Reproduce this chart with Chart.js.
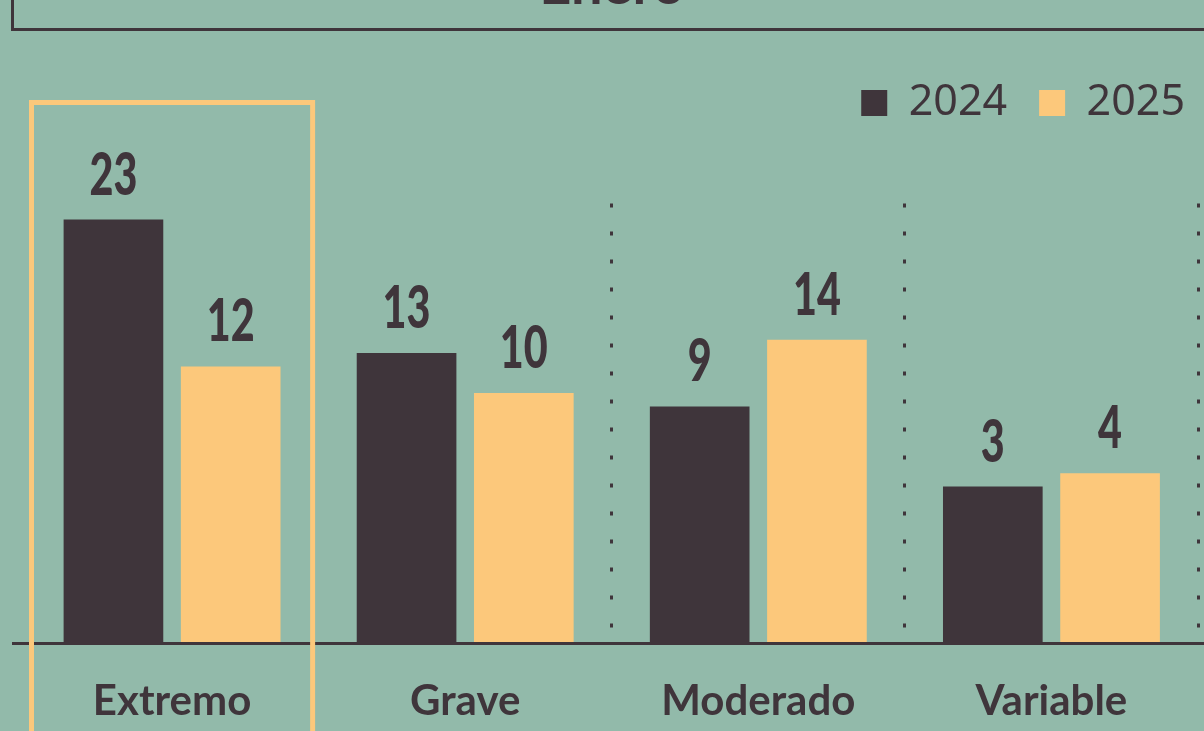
<!DOCTYPE html>
<html>
<head>
<meta charset="utf-8">
<script src="https://cdn.jsdelivr.net/npm/chart.js@4.4.1/dist/chart.umd.min.js"></script>
<style>
  html, body { margin: 0; padding: 0; }
  body { width: 1204px; height: 731px; overflow: hidden; position: relative; background: #92baaa; }
  #titleBox { position: absolute; left: 11px; top: -60px; width: 1300px; height: 91px; box-sizing: border-box; border: 3px solid #3f353b; }
  #title { position: absolute; left: 0; top: -45px; width: 1224px; text-align: center; font: 700 56px/56px Lato, sans-serif; color: #3f353b; }
  canvas { position: absolute; left: 0; top: 0; }
</style>
</head>
<body>
<div id="titleBox"></div>
<div id="title">Enero</div>
<canvas id="chart" width="1204" height="731"></canvas>
<script>
// --- Data ---
const categories = ['Extremo', 'Grave', 'Moderado', 'Variable'];
const years = ['2024', '2025'];
const values2024 = [23, 13, 9, 3];
const values2025 = [12, 10, 14, 4];
// bars do not start at zero in the original, the value axis floor sits below it
const axisMin = -8.65;
const axisMax = 24.2;
const highlightIndex = 0;

const INK = '#3f353b';
const GOLD = '#fcc87b';

// numbers above each bar, squeezed to look like a condensed face
const valueLabels = {
  id: 'valueLabels',
  afterDatasetsDraw(chart) {
    const ctx = chart.ctx;
    ctx.save();
    ctx.fillStyle = INK;
    ctx.font = '900 59px Lato';
    ctx.textAlign = 'center';
    ctx.textBaseline = 'alphabetic';
    chart.data.datasets.forEach((ds, i) => {
      chart.getDatasetMeta(i).data.forEach((bar, j) => {
        ctx.save();
        ctx.translate(bar.x, bar.y - 25);
        ctx.scale(0.7, 1);
        ctx.fillText(String(ds.data[j]), 0, 0);
        ctx.restore();
      });
    });
    ctx.restore();
  }
};

// baseline across the page + the gold box round the highlighted category
const frame = {
  id: 'frame',
  afterDraw(chart) {
    const { ctx, chartArea, scales: { x } } = chart;
    ctx.save();
    ctx.strokeStyle = INK;
    ctx.lineWidth = 3;
    ctx.beginPath();
    ctx.moveTo(12, chartArea.bottom + 1.5);
    ctx.lineTo(chart.width, chartArea.bottom + 1.5);
    ctx.stroke();

    const half = (x.getPixelForValue(1) - x.getPixelForValue(0)) / 2 - 6;
    const cx = x.getPixelForValue(highlightIndex);
    ctx.strokeStyle = GOLD;
    ctx.lineWidth = 5;
    ctx.strokeRect(cx - half, 102.5, half * 2, chart.height);
    ctx.restore();
  }
};

// extra room between the legend and the plot, legend pushed closer to the right edge
const legendGap = {
  id: 'legendGap',
  beforeInit(chart) {
    const fit = chart.legend.fit;
    chart.legend.fit = function () {
      fit.call(this);
      this.height += 69;
    };
  },
  afterLayout(chart) {
    chart.legend.left += 19;
    chart.legend.right += 19;
  }
};

new Chart(document.getElementById('chart'), {
  type: 'bar',
  data: {
    labels: categories,
    datasets: [
      { label: years[0], data: values2024, backgroundColor: INK, base: axisMin, categoryPercentage: 0.8, barPercentage: 0.85 },
      { label: years[1], data: values2025, backgroundColor: GOLD, base: axisMin, categoryPercentage: 0.8, barPercentage: 0.85 },
    ],
  },
  options: {
    responsive: false,
    animation: false,
    layout: { padding: { top: 49.5, left: 25.5, right: 6, bottom: -29.5 } },
    plugins: {
      legend: {
        position: 'top',
        align: 'end',
        labels: { boxWidth: 26, boxHeight: 26, padding: 32, color: INK, font: { family: 'Noto Sans', size: 43 } },
      },
      tooltip: { enabled: false },
    },
    scales: {
      x: {
        grid: {
          offset: true,
          drawTicks: false,
          lineWidth: 3,
          color: c => (c.type !== 'tick' || c.index >= 2) ? INK : 'transparent',
        },
        border: { display: false, dash: [4, 24] },
        ticks: { color: INK, padding: 34, font: { family: 'Lato', weight: 'bold', size: 42 } },
      },
      y: { display: false, min: axisMin, max: axisMax },
    },
  },
  plugins: [valueLabels, frame, legendGap],
});
</script>
</body>
</html>
